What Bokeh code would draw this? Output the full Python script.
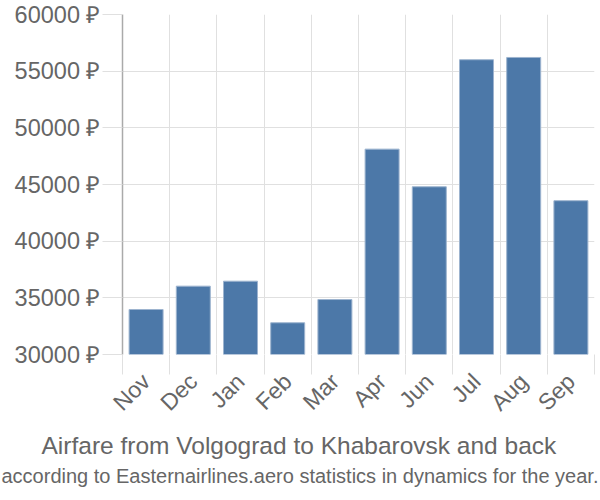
import numpy as np
from bokeh.plotting import figure
from bokeh.models import (FixedTicker, PrintfTickFormatter, Range1d, Title, ColumnDataSource)
from bokeh.embed import file_html
from bokeh.resources import INLINE
from math import pi

months = ["Nov", "Dec", "Jan", "Feb", "Mar", "Apr", "Jun", "Jul", "Aug", "Sep"]
prices = [33970, 36030, 36470, 32800, 34850, 48120, 44800, 56010, 56210, 43570]
y_ticks = [30000, 35000, 40000, 45000, 50000, 55000, 60000]
title_text = "Airfare from Volgograd to Khabarovsk and back"
subtitle_text = "according to Easternairlines.aero statistics in dynamics for the year."

n = len(months)
centers = [i + 0.5 for i in range(n)]
bounds = list(range(n + 1))

src = ColumnDataSource(dict(x=centers, top=prices, month=months))

p = figure(width=600, height=500, output_backend="svg", toolbar_location=None,
           x_range=Range1d(0, n), y_range=Range1d(30000, 60000),
           min_border_left=122, min_border_right=6, min_border_top=14,
           min_border_bottom=146, outline_line_color=None)

p.vbar(x="x", top="top", bottom=30000, width=0.72, source=src,
       fill_color="#4c78a8", line_color="#9db4cf", line_width=1)

FONT = "Liberation Sans"
GRID = "#e0e0e0"

# x axis
xa = p.xaxis[0]
xa.ticker = FixedTicker(ticks=centers, minor_ticks=bounds)
xa.major_label_overrides = {c: m for c, m in zip(centers, months)}
xa.major_tick_out = 0
xa.major_tick_in = 0
xa.minor_tick_out = 20
xa.minor_tick_in = 0
xa.minor_tick_line_color = GRID
xa.minor_tick_line_width = 1
xa.axis_line_color = None
xa.major_label_orientation = pi / 4
xa.major_label_standoff = 3
xa.major_label_text_font = FONT
xa.major_label_text_font_size = "23px"
xa.major_label_text_color = "#666666"

# y axis
ya = p.yaxis[0]
ya.ticker = FixedTicker(ticks=y_ticks, minor_ticks=[])
ya.formatter = PrintfTickFormatter(format="%d ₽")
ya.major_tick_out = 20
ya.major_tick_in = 0
ya.major_tick_line_color = GRID
ya.axis_line_color = "#aaaaaa"
ya.axis_line_width = 1.5
ya.major_label_standoff = 2
ya.major_label_text_font = FONT
ya.major_label_text_font_size = "23.5px"
ya.major_label_text_color = "#666666"

p.xgrid.ticker = FixedTicker(ticks=bounds)
p.xgrid.grid_line_color = GRID
p.ygrid.ticker = FixedTicker(ticks=y_ticks)
p.ygrid.grid_line_color = GRID

t1 = Title(text=title_text, align="left", text_font=FONT,
           text_font_size="24.5px", text_font_style="normal", text_color="#666666",
           standoff=4, offset=-81)
t2 = Title(text=subtitle_text, align="left", text_font=FONT,
           text_font_size="20px", text_font_style="normal", text_color="#666666",
           standoff=4, offset=-121)
p.add_layout(t1, "below")
p.add_layout(t2, "below")

open("out.html", "w").write(file_html(p, INLINE))
